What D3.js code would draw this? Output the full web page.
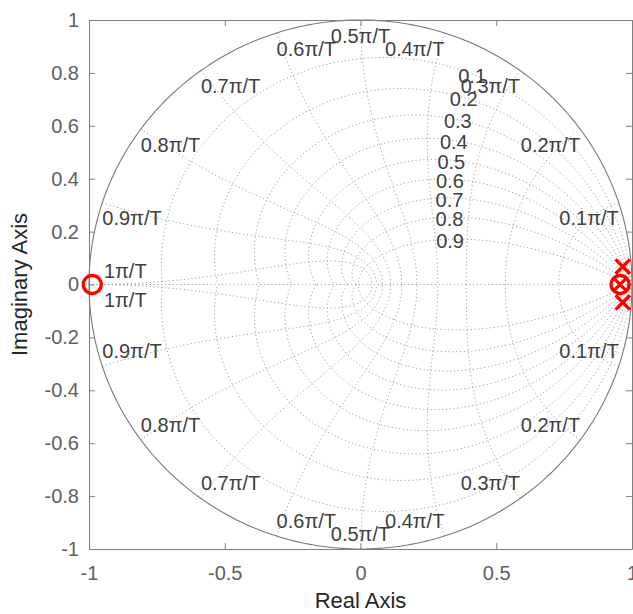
<!DOCTYPE html>
<html>
<head>
<meta charset="utf-8">
<script src="https://cdn.jsdelivr.net/npm/d3@7"></script>
<style>
  html, body { margin: 0; padding: 0; background: #fff; }
  svg { display: block; }
  text { font-family: "Liberation Sans", Arial, Helvetica, sans-serif; }
</style>
</head>
<body>
<svg id="chart" width="633" height="614"></svg>
<script>
// ---- data ----
const xTickValues = [-1, -0.5, 0, 0.5, 1];
const xTickLabels = ["-1", "-0.5", "0", "0.5", "1"];
const yTickValues = [-1, -0.8, -0.6, -0.4, -0.2, 0, 0.2, 0.4, 0.6, 0.8, 1];
const yTickLabels = ["-1", "-0.8", "-0.6", "-0.4", "-0.2", "0", "0.2", "0.4", "0.6", "0.8", "1"];
const zetaValues = [0.1, 0.2, 0.3, 0.4, 0.5, 0.6, 0.7, 0.8, 0.9];
const zetaLabels = ["0.1", "0.2", "0.3", "0.4", "0.5", "0.6", "0.7", "0.8", "0.9"];
const wnValues = [0.1, 0.2, 0.3, 0.4, 0.5, 0.6, 0.7, 0.8, 0.9, 1.0]; // times pi/T
const wnLabels = ["0.1π/T", "0.2π/T", "0.3π/T", "0.4π/T", "0.5π/T", "0.6π/T", "0.7π/T", "0.8π/T", "0.9π/T", "1π/T"];
const zetaLabelWn = 0.35; // natural frequency (x pi/T) where damping labels sit
const zerosRe = [-0.988, 0.956];
const zerosIm = [0, 0];
const polesRe = [0.956, 0.966, 0.966];
const polesIm = [0, 0.068, -0.068];
const xLabel = "Real Axis";
const yLabel = "Imaginary Axis";

// ---- layout ----
const svg = d3.select("#chart");
const x = d3.scaleLinear().domain([-1, 1]).range([89, 632]);
const y = d3.scaleLinear().domain([-1, 1]).range([549, 20]);
const axisColor = "#808080";
const tickTextColor = "#606060";
const gridColor = "#a0a0a0";
const gridTextColor = "#404040";

const line = d3.line().x(d => x(d[0])).y(d => y(d[1]));
const PI = Math.PI;

// grid: damping ratio curves
const gGrid = svg.append("g").attr("fill", "none").attr("stroke", gridColor)
  .attr("stroke-width", 1).attr("stroke-dasharray", "1.2,2.6");

zetaValues.forEach(z => {
  const s = Math.sqrt(1 - z * z);
  const wmax = PI / s;
  [1, -1].forEach(sign => {
    const pts = d3.range(0, 201).map(i => {
      const w = wmax * i / 200;
      const r = Math.exp(-z * w);
      const a = w * s;
      return [r * Math.cos(a), sign * r * Math.sin(a)];
    });
    gGrid.append("path").attr("d", line(pts));
  });
});

// grid: natural frequency curves
wnValues.forEach(k => {
  const wn = k * PI;
  [1, -1].forEach(sign => {
    const pts = d3.range(0, 201).map(i => {
      const z = i / 200;
      const r = Math.exp(-z * wn);
      const a = wn * Math.sqrt(1 - z * z);
      return [r * Math.cos(a), sign * r * Math.sin(a)];
    });
    gGrid.append("path").attr("d", line(pts));
  });
});

// real axis dotted
gGrid.append("path").attr("d", line([[-1, 0], [1, 0]]));

// unit circle
const circPts = d3.range(0, 361).map(i => [Math.cos(i * PI / 180), Math.sin(i * PI / 180)]);
svg.append("path").attr("d", line(circPts)).attr("fill", "none")
  .attr("stroke", "#7a7a7a").attr("stroke-width", 1.1);

// natural frequency labels
const gLab = svg.append("g").attr("fill", gridTextColor).attr("font-size", 20);
wnValues.forEach((k, i) => {
  const a = k * PI;
  [1, -1].forEach(sign => {
    let px, py, anchor;
    if (k >= 1) {
      px = x(-0.945);
      py = y(0) + (sign > 0 ? -14 : 15);
      anchor = "start";
    } else {
      px = x(Math.cos(a));
      py = y(sign * Math.sin(a)) + sign * 15.5;
      anchor = k < 0.5 ? "end" : (k > 0.5 ? "start" : "middle");
    }
    gLab.append("text").attr("x", px).attr("y", py).attr("dy", "0.36em")
      .attr("text-anchor", anchor).text(wnLabels[i]);
  });
});

// damping labels
zetaValues.forEach((z, i) => {
  const w = zetaLabelWn * PI;
  const r = Math.exp(-z * w);
  const a = w * Math.sqrt(1 - z * z);
  gLab.append("text").attr("x", x(r * Math.cos(a))).attr("y", y(r * Math.sin(a)) + 1.5)
    .attr("dy", "0.36em").attr("text-anchor", "middle").text(zetaLabels[i]);
});

// axes
function styleAxis(g) {
  g.select(".domain").attr("stroke", axisColor);
  g.selectAll(".tick line").attr("stroke", axisColor);
  g.selectAll(".tick text").attr("fill", tickTextColor).attr("font-size", 20)
    .attr("font-family", "'Liberation Sans', Arial, sans-serif");
}
svg.append("g").attr("transform", `translate(0,${y(-1)})`)
  .call(d3.axisBottom(x).tickValues(xTickValues).tickFormat((d, i) => xTickLabels[i])
    .tickSizeInner(-6).tickSizeOuter(0).tickPadding(17))
  .call(styleAxis);
svg.append("g").attr("transform", `translate(0,${y(1)})`)
  .call(d3.axisTop(x).tickValues(xTickValues).tickFormat("")
    .tickSizeInner(-6).tickSizeOuter(0))
  .call(styleAxis);
svg.append("g").attr("transform", `translate(${x(-1)},0)`)
  .call(d3.axisLeft(y).tickValues(yTickValues).tickFormat((d, i) => yTickLabels[i])
    .tickSizeInner(-6).tickSizeOuter(0).tickPadding(10))
  .call(styleAxis);
svg.append("g").attr("transform", `translate(${x(1)},0)`)
  .call(d3.axisRight(y).tickValues(yTickValues).tickFormat("")
    .tickSizeInner(-6).tickSizeOuter(0))
  .call(styleAxis);

// axis titles
svg.append("text").attr("x", (x(-1) + x(1)) / 2).attr("y", 608)
  .attr("text-anchor", "middle").attr("font-size", 22).attr("fill", "#262626").text(xLabel);
svg.append("text").attr("transform", `translate(27,${(y(-1) + y(1)) / 2}) rotate(-90)`)
  .attr("text-anchor", "middle").attr("font-size", 22).attr("fill", "#262626").text(yLabel);

// zeros
svg.append("g").selectAll("circle").data(zerosRe).join("circle")
  .attr("cx", d => x(d)).attr("cy", (d, i) => y(zerosIm[i])).attr("r", 9)
  .attr("fill", "none").attr("stroke", "#ff0000").attr("stroke-width", 3.3);

// poles
const h = 7.2;
svg.append("g").selectAll("path").data(polesRe).join("path")
  .attr("d", (d, i) => {
    const cx = x(d), cy = y(polesIm[i]);
    return `M${cx - h},${cy - h}L${cx + h},${cy + h}M${cx - h},${cy + h}L${cx + h},${cy - h}`;
  })
  .attr("fill", "none").attr("stroke", "#ff0000").attr("stroke-width", 3.3);
</script>
</body>
</html>
